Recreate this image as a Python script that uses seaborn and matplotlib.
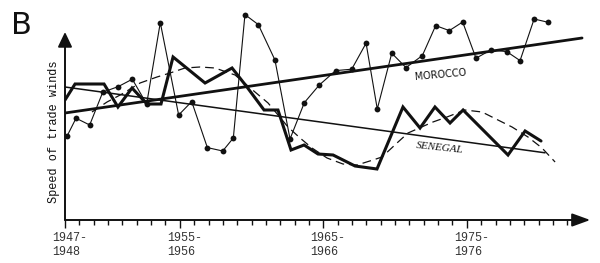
import matplotlib
matplotlib.use("Agg")
import matplotlib.pyplot as plt
import numpy as np
import pandas as pd
import seaborn as sns
from matplotlib.transforms import ScaledTranslation

# ---------------- data ----------------
morocco_year = [1947.16, 1947.77, 1948.72, 1949.63, 1950.71, 1951.69, 1952.69, 1953.64,
                1954.92, 1955.83, 1956.92, 1957.99, 1958.73, 1959.54, 1960.47, 1961.63,
                1962.68, 1963.68, 1964.72, 1965.86, 1966.98, 1967.98, 1968.76, 1969.77,
                1970.76, 1971.90, 1972.83, 1973.78, 1974.71, 1975.64, 1976.67, 1977.78,
                1978.71, 1979.69, 1980.64]
morocco_speed = [42.2, 50.9, 47.5, 63.9, 66.7, 70.4, 58.0, 98.7,
                 52.5, 59.2, 36.2, 34.5, 41.0, 102.7, 97.7, 80.0,
                 40.5, 58.7, 67.5, 74.7, 75.4, 88.4, 55.5, 83.4,
                 76.2, 82.2, 97.2, 94.7, 99.0, 80.9, 85.0, 84.2,
                 79.7, 100.5, 98.9]

senegal_year = [1947.00, 1947.70, 1949.72, 1950.69, 1951.67, 1952.71, 1953.69, 1954.53,
                1956.76, 1958.64, 1959.68, 1960.87, 1961.84, 1962.75, 1963.66, 1964.63,
                1965.68, 1967.21, 1968.74, 1970.55, 1971.74, 1972.78, 1973.83, 1974.74,
                1977.87, 1979.06, 1980.17]
senegal_speed = [60.0, 68.0, 68.0, 56.5, 66.0, 58.0, 58.0, 81.5,
                 68.5, 76.0, 66.5, 55.0, 55.0, 35.0, 37.5, 33.0,
                 32.5, 27.0, 25.5, 56.5, 46.0, 56.5, 48.5, 55.0,
                 32.5, 44.5, 39.5]

senegal_smooth_year = [1948.88, 1949.93, 1950.97, 1952.23, 1953.41, 1954.32, 1955.36, 1956.41,
                       1957.45, 1958.85, 1960.24, 1961.15, 1962.54, 1963.38, 1964.21, 1965.26,
                       1966.37, 1967.35, 1968.46, 1969.09, 1970.21, 1970.90, 1972.64, 1973.62,
                       1974.87, 1976.06, 1977.17, 1978.15, 1979.26, 1980.24, 1981.15]
senegal_smooth_speed = [54.0, 59.0, 63.0, 68.5, 71.5, 73.5, 76.0, 76.5,
                        76.0, 72.5, 64.0, 58.5, 46.5, 41.0, 36.0, 31.0,
                        28.0, 27.5, 30.0, 31.5, 39.0, 43.5, 49.0, 51.5,
                        55.0, 54.0, 50.0, 46.5, 41.5, 36.0, 29.0]

morocco_trend_year = [1947.0, 1983.03]
morocco_trend_speed = [53.5, 91.0]
senegal_trend_year = [1947.0, 1980.45]
senegal_trend_speed = [66.5, 33.6]

major_years = [1947, 1955, 1965, 1975]
major_labels = ["1947-\n1948", "1955-\n1956", "1965-\n1966", "1975-\n1976"]
minor_years = list(range(1948, 1983))

# ---------------- figure ----------------
sns.set_theme(style="white")
plt.rcParams["font.family"] = ["DejaVu Sans"]

fig = plt.figure(figsize=(6.0, 2.63), dpi=100)
fig.patch.set_facecolor("white")
ax = fig.add_axes([65 / 600, 43 / 263, 535 / 600, 220 / 263])
ax.set_facecolor("white")
ax.set_xlim(1947, 1984.28)
ax.set_ylim(0, 110)

ink = "#111111"

# Morocco series with dots
sns.lineplot(x=morocco_year, y=morocco_speed, ax=ax, color=ink, lw=0.8,
             marker="o", markersize=4.2, markeredgewidth=0, estimator=None, sort=False)
# Morocco trend
sns.lineplot(x=morocco_trend_year, y=morocco_trend_speed, ax=ax, color=ink, lw=2.0,
             estimator=None, sort=False)
# Senegal heavy series
sns.lineplot(x=senegal_year, y=senegal_speed, ax=ax, color=ink, lw=2.2,
             estimator=None, sort=False, solid_joinstyle="miter")
# Senegal trend
sns.lineplot(x=senegal_trend_year, y=senegal_trend_speed, ax=ax, color=ink, lw=1.1,
             estimator=None, sort=False)
# Senegal smoothed (dashed)
sns.lineplot(x=senegal_smooth_year, y=senegal_smooth_speed, ax=ax, color=ink, lw=0.9,
             estimator=None, sort=False, linestyle=(0, (7, 4)))

# axes with arrow heads
for s in ax.spines.values():
    s.set_visible(False)
ax.annotate("", xy=(1983.6, 0), xytext=(1947, 0), annotation_clip=False,
            arrowprops=dict(arrowstyle="-|>,head_length=1.1,head_width=0.4",
                            mutation_scale=10, lw=1.4, color=ink,
                            shrinkA=0, shrinkB=0))
ax.annotate("", xy=(1947, 94), xytext=(1947, 0), annotation_clip=False,
            arrowprops=dict(arrowstyle="-|>,head_length=0.9,head_width=0.43",
                            mutation_scale=10, lw=1.4, color=ink,
                            shrinkA=0, shrinkB=0))

# ticks
ax.set_yticks([])
ax.set_xticks(major_years)
ax.set_xticks([y for y in minor_years if y not in major_years], minor=True)
ax.tick_params(axis="x", which="major", direction="out", length=5.8, width=1.0,
               color=ink, bottom=True, pad=3)
ax.tick_params(axis="x", which="minor", direction="out", length=3.6, width=1.0,
               color=ink, bottom=True)
ax.set_xticklabels(major_labels, ha="left", fontsize=8.5, color="#333333",
                   family=["Liberation Mono", "DejaVu Sans Mono"], linespacing=1.15)
for lab in ax.get_xticklabels():
    lab.set_transform(lab.get_transform() + ScaledTranslation(-0.13, 0, fig.dpi_scale_trans))

# texts
fig.text(54 / 600, 1 - 132 / 263, "Speed of trade winds", rotation=90, ha="center",
         va="center", fontsize=8.6, color=ink, family=["Liberation Mono", "DejaVu Sans Mono"])
fig.text(21 / 600, 1 - 25 / 263, "B", ha="center", va="center", fontsize=22,
         color=ink, family=["Liberation Sans Narrow", "DejaVu Sans"])
ax.text(1973.2, 72.5, "MOROCCO", rotation=5, ha="center", va="center", fontsize=7,
        color=ink, rotation_mode="anchor")
ax.text(1973.1, 36.0, "SENEGAL", rotation=-6, ha="center", va="center", fontsize=8,
        color=ink, style="italic", family=["Liberation Serif", "DejaVu Serif"],
        rotation_mode="anchor")

fig.savefig("out.png", dpi=100, facecolor="white")
